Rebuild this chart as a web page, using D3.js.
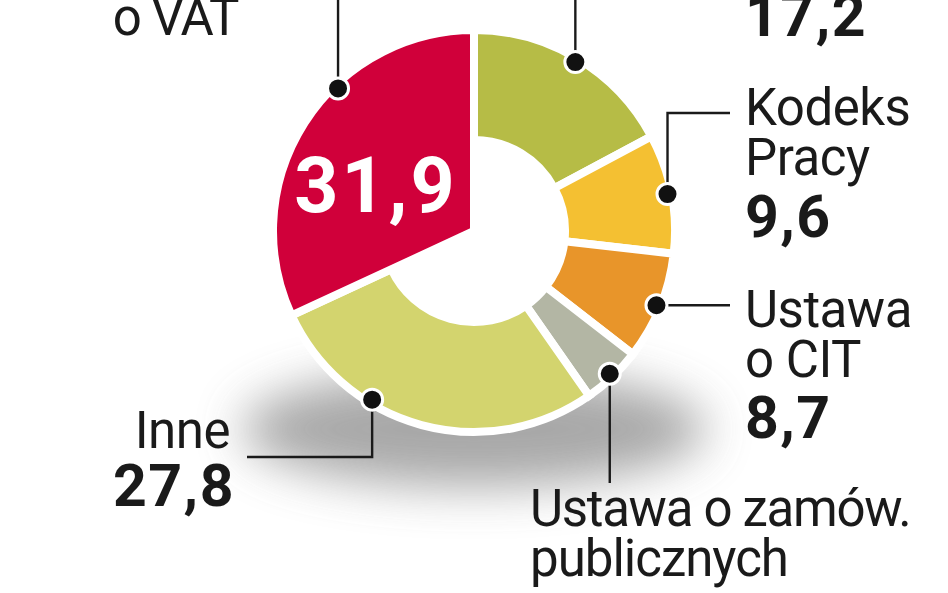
<!DOCTYPE html>
<html>
<head>
<meta charset="utf-8">
<script src="https://cdn.jsdelivr.net/npm/d3@7"></script>
<style>
html,body{margin:0;padding:0;background:#fff;}
svg{display:block;}
text{font-family:Roboto,"Liberation Sans",Arial,sans-serif;fill:#1a1a1a;}
</style>
</head>
<body>
<svg id="chart" width="948" height="593"></svg>
<script>
// ---- data ----
const categories = ["Ordynacja", "Kodeks Pracy", "Ustawa o CIT", "Ustawa o zamów. publicznych", "Inne", "Ustawa o VAT"];
const values = [17.2, 9.6, 8.7, 4.8, 27.8, 31.9];
const valueLabels = ["17,2", "9,6", "8,7", "", "27,8", "31,9"];
const colors = ["#b6bc46", "#f4c032", "#e8952a", "#b3b6a4", "#d3d46e", "#d0003a"];
const highlighted = [false, false, false, false, false, true];

const W = 948, H = 593;
const cx = 474, cy = 231;
const rOuter = 201, rInner = 91;
const svg = d3.select("#chart");

// shadow
const defs = svg.append("defs");
defs.append("filter").attr("id", "blur").attr("x", "-50%").attr("y", "-50%").attr("width", "200%").attr("height", "200%")
  .append("feGaussianBlur").attr("stdDeviation", 24);
svg.append("ellipse").attr("cx", cx).attr("cy", cy + 198).attr("rx", 232).attr("ry", 58)
  .attr("fill", "#939393").attr("opacity", 0.8).attr("filter", "url(#blur)");

const pie = d3.pie().sort(null).value(d => d)
  .startAngle(0).endAngle(2 * Math.PI);
const arcs = pie(values);
const arc = d3.arc()
  .innerRadius((d, i) => highlighted[d.index] ? 0 : rInner)
  .outerRadius(rOuter);

const g = svg.append("g").attr("transform", `translate(${cx},${cy})`);
g.selectAll("path").data(arcs).join("path")
  .attr("d", arc)
  .attr("fill", (d, i) => colors[i])
  .attr("stroke", "#fff").attr("stroke-width", 8).attr("stroke-linejoin", "miter");

// anchor points on outer rim
const anchorFrac = [0.5, 0.5, 0.5, 0.5, 0.66, 0.62];
const rDot = 197;
function anchor(i) {
  const a = arcs[i];
  const ang = a.startAngle + (a.endAngle - a.startAngle) * anchorFrac[i];
  return [cx + rDot * Math.sin(ang), cy - rDot * Math.cos(ang)];
}

// leader routes (layout only)
const L = svg.append("g");
const routes = [
  p => [[p[0], p[1]], [p[0], -5]],
  p => [[p[0], p[1]], [p[0], 113], [730, 113]],
  p => [[p[0], p[1]], [730, p[1]]],
  p => [[p[0], p[1]], [p[0], 483]],
  p => [[p[0], p[1]], [p[0], 457], [247, 457]],
  p => [[p[0], p[1]], [p[0], -5]]
];
arcs.forEach((d, i) => {
  const p = anchor(i);
  L.append("path").attr("d", d3.line()(routes[i](p)))
    .attr("fill", "none").attr("stroke", "#1a1a1a").attr("stroke-width", 2.4);
});
arcs.forEach((d, i) => {
  const p = anchor(i);
  L.append("circle").attr("cx", p[0]).attr("cy", p[1]).attr("r", 10.5)
    .attr("fill", "#111").attr("stroke", "#fff").attr("stroke-width", 3);
});

// labels
const fs = 51, fb = 59;
function txt(x, y, s, opts = {}) {
  return svg.append("text").attr("x", x).attr("y", y).text(s)
    .attr("font-size", opts.size || fs)
    .attr("font-weight", opts.bold ? 700 : 400)
    .attr("text-anchor", opts.anchor || "start")
    .attr("letter-spacing", opts.ls || 0)
    .style("fill", opts.fill || "#1a1a1a");
}
// VAT
txt(238, -15, "Ustawa", {anchor: "end", ls: -1});
txt(238, 35, "o VAT", {anchor: "end", ls: -1.5});
// 17,2
txt(745, 36, valueLabels[0], {bold: true, size: fb, ls: 1.5});
// Kodeks Pracy
txt(745, 125, "Kodeks", {ls: -0.5});
txt(745, 175, "Pracy", {ls: -0.5});
txt(745, 237, valueLabels[1], {bold: true, size: fb, ls: 1.5});
// CIT
txt(745, 327, "Ustawa", {ls: -0.5});
txt(745, 377, "o CIT", {ls: -0.5});
txt(745, 438, valueLabels[2], {bold: true, size: fb, ls: 1.5});
// zamów
txt(530, 526, "Ustawa o zamów.", {ls: -1.3});
txt(530, 576, "publicznych", {ls: -1});
// Inne
txt(230, 448, "Inne", {anchor: "end", ls: -0.5});
txt(235, 506, valueLabels[4], {bold: true, size: fb, ls: 1.5, anchor: "end"});
// 31,9 inside red
txt(376, 212, valueLabels[5], {bold: true, size: 77, ls: 3, anchor: "middle", fill: "#fff"});
</script>
</body>
</html>
